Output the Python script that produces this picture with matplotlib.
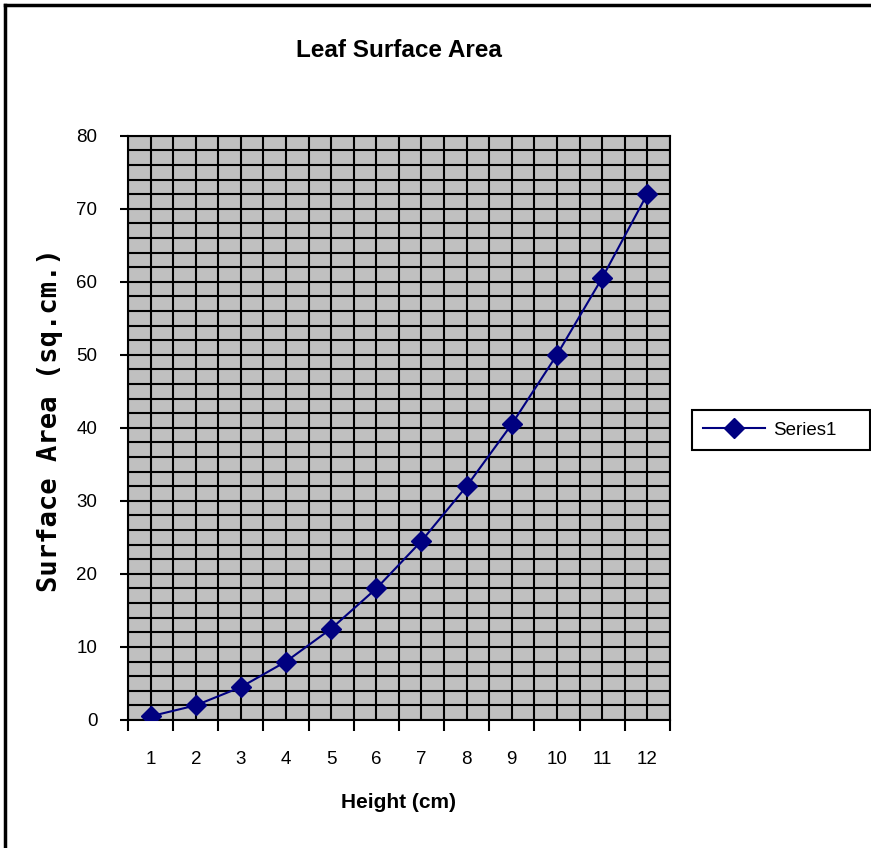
import matplotlib
matplotlib.use('Agg')
import matplotlib.pyplot as plt
from matplotlib.lines import Line2D

# leaf height (cm) vs surface area (sq.cm.)
heights = [1, 2, 3, 4, 5, 6, 7, 8, 9, 10, 11, 12]
area = [0.5, 2, 4.5, 8, 12.5, 18, 24.5, 32, 40.5, 50, 60.5, 72]
y_ticks = [0, 10, 20, 30, 40, 50, 60, 70, 80]

plt.rcParams['font.family'] = ['Liberation Sans', 'DejaVu Sans']

fig = plt.figure(figsize=(8.71, 8.48), dpi=100)
ax = fig.add_axes([0.147, 0.151, 0.622, 0.689])
ax.set_facecolor('#C0C0C0')

ax.plot(heights, area, color='#000080', lw=1.5, marker='D', ms=10,
        markeredgecolor='#000080', markerfacecolor='#000080', label='Series1', zorder=3)

ax.set_xlim(0.5, 12.5)
ax.set_ylim(0, 80)

# category boundaries get ticks, centres get labels
ax.set_xticks([h - 0.5 for h in heights] + [heights[-1] + 0.5])
ax.set_xticklabels([])
ax.set_xticks(heights, minor=True)
ax.set_xticklabels([str(h) for h in heights], minor=True)
ax.tick_params(axis='x', which='major', length=8, width=1.5, color='black')
ax.tick_params(axis='x', which='minor', length=0, pad=22, labelsize=13.5)

ax.set_yticks(y_ticks)
ax.set_yticks(range(0, 81, 2), minor=True)
ax.tick_params(axis='y', which='major', length=6, width=1.5, pad=16, labelsize=13.5)
ax.tick_params(axis='y', which='minor', length=0)

ax.grid(True, which='both', color='black', lw=1.5)
ax.set_axisbelow(True)
for s in ax.spines.values():
    s.set_color('black')
    s.set_linewidth(1.5)

ax.set_title('Leaf Surface Area', fontsize=17.5, fontweight='bold', pad=57)
ax.set_xlabel('Height (cm)', fontsize=15, fontweight='bold', labelpad=18)
ax.set_ylabel('Surface Area (sq.cm.)', fontsize=19.5, fontweight='bold',
              family='DejaVu Sans Mono')
ax.yaxis.set_label_coords(-0.12, 0.514)

leg = fig.legend(handles=[Line2D([], [], color='#000080', lw=1.5, marker='D', ms=10)],
                 labels=['Series1'], loc='lower left', mode='expand', borderaxespad=0,
                 bbox_to_anchor=(692 / 871, (848 - 450) / 848, 178 / 871, 0.05),
                 fancybox=False, edgecolor='black', framealpha=1, fontsize=13.5,
                 handlelength=3.3, handletextpad=0.45, borderpad=0.6)
leg.get_frame().set_linewidth(1.5)

# outer chart frame (cut off on the right and bottom)
fig.add_artist(Line2D([0.006, 0.006], [0.0, 0.994], color='black', lw=2.5, transform=fig.transFigure))
fig.add_artist(Line2D([0.006, 1.0], [0.994, 0.994], color='black', lw=2.5, transform=fig.transFigure))

fig.savefig('out.png', dpi=100)
